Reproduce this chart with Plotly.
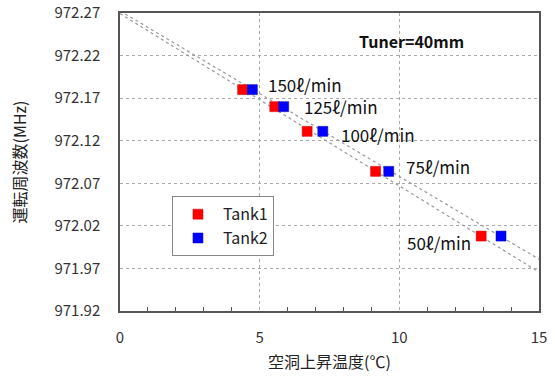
import numpy as np
import plotly.graph_objects as go

flow_labels = ["150ℓ/min", "125ℓ/min", "100ℓ/min", "75ℓ/min", "50ℓ/min"]
tank1_temp = [4.39, 5.54, 6.70, 9.15, 12.93]
tank1_freq = [972.180, 972.160, 972.131, 972.084, 972.008]
tank2_temp = [4.74, 5.86, 7.26, 9.62, 13.64]
tank2_freq = [972.180, 972.160, 972.131, 972.084, 972.008]

x_range = [0, 15]
y_range = [971.92, 972.27]

JP = "Noto Sans CJK JP, Noto Sans, sans-serif"

fig = go.Figure()

# Trend lines (linear fits of each series)
for xs, ys in [(tank1_temp, tank1_freq), (tank2_temp, tank2_freq)]:
    k, b = np.polyfit(xs, ys, 1)
    lx = np.array(x_range, dtype=float)
    fig.add_trace(go.Scatter(x=lx, y=k * lx + b, mode="lines",
                             line=dict(color="#999999", width=1.2, dash="dot"),
                             showlegend=False, hoverinfo="skip"))

fig.add_trace(go.Scatter(x=tank1_temp, y=tank1_freq, mode="markers", name="Tank1",
                         marker=dict(symbol="square", size=10, color="#FF0000",
                                     line=dict(color="#cc0000", width=0.5))))
fig.add_trace(go.Scatter(x=tank2_temp, y=tank2_freq, mode="markers", name="Tank2",
                         marker=dict(symbol="square", size=10, color="#0000FF",
                                     line=dict(color="#0000aa", width=0.5))))

label_font = dict(family=JP, size=17, color="#111111")
shifts = [(14, 5), (18, 0), (16, -3), (15, 5)]
for i in range(4):
    fig.add_annotation(x=tank2_temp[i], y=tank2_freq[i], text=flow_labels[i],
                       showarrow=False, xanchor="left", xshift=shifts[i][0],
                       yshift=shifts[i][1], font=label_font)
fig.add_annotation(x=tank1_temp[4], y=tank1_freq[4], text=flow_labels[4],
                   showarrow=False, xanchor="right", xshift=-8, yshift=-6,
                   font=label_font)

fig.add_annotation(xref="paper", yref="paper", x=0.696, y=0.905,
                   xanchor="center", yanchor="middle",
                   text="<b>Tuner=40mm</b>", showarrow=False,
                   font=dict(family=JP, size=16, color="#111111"))

fig.update_xaxes(range=x_range, dtick=5, tick0=0, automargin=False,
                 showgrid=True, gridcolor="#aaaaaa", griddash="dot", gridwidth=1,
                 showline=True, linecolor="#555555", linewidth=1.5, mirror=True,
                 ticks="", zeroline=False,
                 minor=dict(ticks="inside", dtick=1, ticklen=4, tickcolor="#555555",
                            showgrid=False),
                 ticklabelstandoff=12,
                 tickfont=dict(family=JP, size=15, color="#333333"),
                 title=dict(text="空洞上昇温度(℃)", standoff=11,
                            font=dict(family=JP, size=16, color="#222222")))
fig.update_yaxes(range=y_range, dtick=0.05, tick0=971.92, tickformat=".2f",
                 automargin=False,
                 showgrid=True, gridcolor="#aaaaaa", griddash="dot", gridwidth=1,
                 showline=True, linecolor="#555555", linewidth=1.5, mirror=True,
                 ticks="", zeroline=False,
                 ticklabelstandoff=15,
                 tickfont=dict(family=JP, size=15, color="#333333"),
                 title=dict(text="運転周波数(MHz)", standoff=24,
                            font=dict(family=JP, size=16, color="#222222")))

fig.update_layout(
    width=555, height=376,
    margin=dict(l=120, r=16, t=13, b=65),
    paper_bgcolor="white", plot_bgcolor="white",
    showlegend=True,
    legend=dict(x=0.124, y=0.385, xanchor="left", yanchor="top",
                bgcolor="white", bordercolor="#888888", borderwidth=1,
                font=dict(family=JP, size=16, color="#222222"),
                tracegroupgap=0, itemwidth=40),
)

fig.write_html("out.html", config={"displayModeBar": False},
               post_script="document.body.style.margin='0px';document.body.style.overflow='hidden';")
